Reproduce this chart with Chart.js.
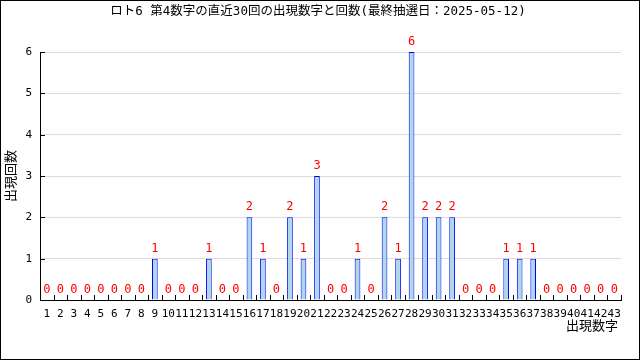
<!DOCTYPE html>
<html>
<head>
<meta charset="utf-8">
<script src="https://cdn.jsdelivr.net/npm/chart.js@4/dist/chart.umd.min.js"></script>
<style>
  html, body { margin: 0; padding: 0; background: #fff; }
  #wrap { width: 640px; height: 360px; }
</style>
</head>
<body>
<div id="wrap"><canvas id="lotoChart" width="640" height="360"></canvas></div>
<script>
"use strict";

const numbers = [];
for (let n = 1; n <= 43; n++) numbers.push(String(n));

const counts = [
    0, 0, 0, 0, 0, 0, 0, 0, 1, 0,
    0, 0, 1, 0, 0, 2, 1, 0, 2, 1,
    3, 0, 0, 1, 0, 2, 1, 6, 2, 2,
    2, 0, 0, 0, 1, 1, 1, 0, 0, 0,
    0, 0, 0
];
const yTicks = [0, 1, 2, 3, 4, 5, 6];

const titleText = "ロト6 第4数字の直近30回の出現数字と回数(最終抽選日：2025-05-12)";
const yTitle = "出現回数";
const xTitle = "出現数字";

const FONT = '"DejaVu Sans Mono", "Noto Sans CJK JP", monospace';

// title, axis titles, value labels, inward ticks and outer frame
const decorations = {
    id: "decorations",
    afterDatasetsDraw(chart) {
        const ctx = chart.ctx;
        const x = chart.scales.x;
        const y = chart.scales.y;
        const area = chart.chartArea;
        ctx.save();

        // inward tick marks
        ctx.strokeStyle = "#000";
        ctx.lineWidth = 1;
        const half = (x.getPixelForValue(1) - x.getPixelForValue(0)) / 2;
        ctx.beginPath();
        for (let i = 0; i <= numbers.length; i++) {
            const px = Math.round(x.getPixelForValue(i) - half) + 0.5;
            ctx.moveTo(px, area.bottom);
            ctx.lineTo(px, area.bottom - 5);
        }
        yTicks.forEach((v) => {
            const py = Math.round(y.getPixelForValue(v)) + 0.5;
            ctx.moveTo(area.left, py);
            ctx.lineTo(area.left + 5, py);
        });
        ctx.stroke();

        // values above bars
        ctx.fillStyle = "#ff0000";
        ctx.font = "12px " + FONT;
        ctx.textAlign = "center";
        ctx.textBaseline = "alphabetic";
        chart.getDatasetMeta(0).data.forEach((bar, i) => {
            ctx.fillText(String(counts[i]), bar.x, bar.y - 7);
        });

        // title
        ctx.fillStyle = "#000";
        ctx.font = "12.5px " + FONT;
        ctx.textAlign = "center";
        ctx.textBaseline = "middle";
        ctx.fillText(titleText, 318, 12);

        // axis titles
        ctx.font = "13px " + FONT;
        ctx.textAlign = "right";
        ctx.textBaseline = "alphabetic";
        ctx.fillText(xTitle, 618, 330);

        ctx.translate(12, (area.top + area.bottom) / 2);
        ctx.rotate(-Math.PI / 2);
        ctx.textAlign = "center";
        ctx.textBaseline = "middle";
        ctx.fillText(yTitle, 0, 0);
        ctx.restore();

        // frame
        ctx.save();
        ctx.strokeStyle = "#000";
        ctx.lineWidth = 1;
        ctx.strokeRect(0.5, 0.5, 639, 359);
        ctx.restore();
    }
};

const ctx = document.getElementById("lotoChart").getContext("2d");
new Chart(ctx, {
    type: "bar",
    data: {
        labels: numbers,
        datasets: [{
            data: counts,
            backgroundColor: "#add8e6",
            borderColor: "#0000ff",
            borderWidth: 1,
            barPercentage: 0.42,
            categoryPercentage: 1
        }]
    },
    options: {
        responsive: false,
        animation: false,
        layout: { padding: { top: 52, right: 19, left: 0, bottom: 0 } },
        plugins: {
            legend: { display: false },
            title: { display: false },
            tooltip: { enabled: false }
        },
        scales: {
            x: {
                grid: { display: false, drawTicks: false },
                border: { display: true, color: "#000", width: 1 },
                ticks: {
                    color: "#000",
                    font: { family: FONT, size: 11 },
                    padding: 8,
                    autoSkip: false,
                    maxRotation: 0,
                    minRotation: 0
                },
                afterFit(scale) { scale.height = 60; }
            },
            y: {
                min: 0,
                max: 6,
                afterBuildTicks(scale) {
                    scale.ticks = yTicks.map((v) => ({ value: v }));
                },
                grid: { color: "#dcdcdc", drawTicks: false },
                border: { display: true, color: "#000", width: 1 },
                ticks: {
                    color: "#000",
                    font: { family: FONT, size: 11 },
                    padding: 8
                },
                afterFit(scale) { scale.width = 40; }
            }
        }
    },
    plugins: [decorations]
});
</script>
</body>
</html>
